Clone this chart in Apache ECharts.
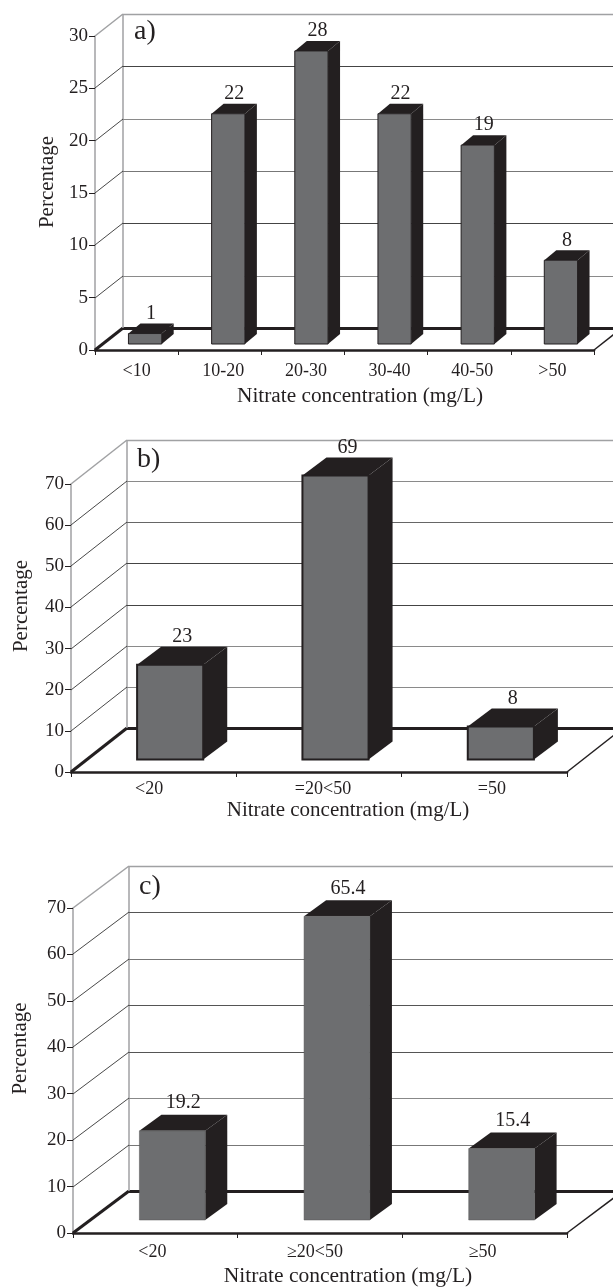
<!DOCTYPE html>
<html><head><meta charset="utf-8">
<style>html,body{margin:0;padding:0;background:#fff}#c{width:613px;height:1288px}</style>
<script src="https://cdn.jsdelivr.net/npm/echarts@6/dist/echarts.min.js"></script>
</head><body><div id="c"></div>
<script>
// Data
const categoriesA = ['<10','10-20','20-30','30-40','40-50','>50'];
const valuesA = [1,22,28,22,19,8];
const categoriesB = ['<20','=20<50','=50'];
const valuesB = [23,69,8];
const categoriesC = ['<20','≥20<50','≥50'];
const valuesC = [19.2,65.4,15.4];
const ticksA = [0,5,10,15,20,25,30];
const ticksBC = [0,10,20,30,40,50,60,70];
const valueLabelsA = ['1','22','28','22','19','8'];
const valueLabelsB = ['23','69','8'];
const valueLabelsC = ['19.2','65.4','15.4'];
const xTitle = 'Nitrate concentration (mg/L)';
const yTitle = 'Percentage';

const FONT = '"Liberation Serif","Times New Roman",serif';
const INK = '#231f20', GREY = '#6d6e70', WALL = '#a0a1a3';

const panels = [
 {letter:'a)', letterLeft:134, letterTop:18, cats:categoriesA, vals:valuesA, labels:valueLabelsA, ticks:ticksA, max:30, interval:5,
  grid:{left:95,top:36,width:499,height:314}, depth:[28,-22], bar:{ox:8.5,oy:6,dx:12,dy:-10,border:1}, nameShift:31, nameGap:36, nameSize:21.3, yPad:22, yGap:36, tickMargin:12,
  gridCols:{5:'#8a8a8a',10:'#444',15:'#777',20:'#8a8a8a',25:'#444'}, labelOffset:[0,3.5,3,3.5,3,0], labelGap:-10},
 {letter:'b)', letterLeft:137, letterTop:446, cats:categoriesB, vals:valuesB, labels:valueLabelsB, ticks:ticksBC, max:70, interval:10,
  grid:{left:71,top:484,width:496,height:288}, depth:[56,-44], bar:{ox:16.5,oy:12.5,dx:24,dy:-18,border:2}, nameShift:58, nameGap:28, nameSize:21, yPad:44, yGap:39, tickMargin:8,
  gridCols:{10:'#8a8a8a',20:'#8a8a8a',30:'#444',40:'#444',50:'#666',60:'#8a8a8a'}, labelOffset:[-4.5,4,7.5], labelGap:-10},
 {letter:'c)', letterLeft:139, letterTop:873, cats:categoriesC, vals:valuesC, labels:valueLabelsC, ticks:ticksBC, max:70, interval:10,
  grid:{left:73,top:908,width:494,height:325}, depth:[56,-42], bar:{ox:17,oy:13,dx:22,dy:-16,border:0}, nameShift:56, nameGap:32, nameSize:21.5, yPad:44, yGap:42, tickMargin:10,
  gridCols:{10:'#777',20:'#888',30:'#555',40:'#555',50:'#777',60:'#555'}, labelOffset:[-3,-5,-2], labelGap:-12}
];

const grids=[],xAxes=[],yAxes=[],series=[],titles=[];
panels.forEach((p,idx)=>{
  grids.push(Object.assign({outerBoundsMode:'none',containLabel:false},p.grid));
  titles.push({text:p.letter,left:p.letterLeft,top:p.letterTop,padding:0,
    textStyle:{fontFamily:FONT,fontSize:28,fontWeight:'normal',color:INK}});
  const rich={};
  p.labelOffset.forEach((o,i)=>{
    rich['k'+i]={fontFamily:FONT,fontSize:18,color:INK,
      padding:[0,o<0?-2*o:0,0,o>0?2*o:0]};
  });
  xAxes.push({type:'category',gridIndex:idx,data:p.cats,
    axisLine:{show:true,lineStyle:{color:INK,width:2.5}},
    axisTick:{show:true,length:5,lineStyle:{color:INK,width:1},alignWithLabel:false},
    axisLabel:{show:true,color:INK,fontFamily:FONT,fontSize:18,margin:p.tickMargin,interval:0,
      formatter:(v,i)=>`{k${i}|${v}}`,rich:rich},
    name:xTitle,nameLocation:'middle',nameGap:p.nameGap,
    nameTextStyle:{fontFamily:FONT,fontSize:p.nameSize,color:INK,padding:[0,0,0,p.nameShift]},
    splitLine:{show:false}});
  yAxes.push({type:'value',gridIndex:idx,min:0,max:p.max,interval:p.interval,
    axisLine:{show:true,lineStyle:{color:WALL,width:1.5}},
    axisTick:{show:true,length:6,lineStyle:{color:INK,width:1}},
    axisLabel:{color:INK,fontFamily:FONT,fontSize:19,margin:7},
    name:yTitle,nameLocation:'middle',nameGap:p.yGap,nameRotate:90,
    nameTextStyle:{fontFamily:FONT,fontSize:21,color:INK,padding:[0,0,0,p.yPad]},
    splitLine:{show:false}});
  // walls and floor
  series.push({type:'custom',xAxisIndex:idx,yAxisIndex:idx,silent:true,z:1,clip:false,
    data:p.ticks.map(t=>[0,t]),
    renderItem:(params,api)=>{
      const cs=params.coordSys, v=api.value(1), y=Math.round(api.coord([0,v])[1]);
      const x0=cs.x, x1=cs.x+cs.width, [dx,dy]=p.depth, bx=x0+dx, by=y+dy;
      const isBase=v===0, isTop=v===p.max;
      const horiz=isBase?INK:isTop?WALL:(p.gridCols[v]||'#666');
      const kids=[
        {type:'line',shape:{x1:x0,y1:y,x2:bx,y2:by},style:{stroke:isBase?INK:isTop?WALL:'#333',lineWidth:isBase?3:isTop?1.5:0.9}},
        {type:'line',shape:{x1:bx,y1:by+0.5,x2:613,y2:by+0.5},style:{stroke:horiz,lineWidth:isBase?3:isTop?1.5:1}}
      ];
      if(isBase){
        kids.push({type:'line',shape:{x1:x1,y1:y,x2:x1+dx,y2:by},style:{stroke:INK,lineWidth:1.5}});
        const topY=Math.round(api.coord([0,p.max])[1])+dy;
        kids.push({type:'line',shape:{x1:bx,y1:by,x2:bx,y2:topY},style:{stroke:WALL,lineWidth:1.5}});
      }
      return {type:'group',children:kids};
    }});
  // bars
  series.push({type:'custom',xAxisIndex:idx,yAxisIndex:idx,silent:true,z:3,clip:false,
    data:p.vals.map((v,i)=>[i,v]),
    renderItem:(params,api)=>{
      const i=api.value(0), v=api.value(1);
      const top=api.coord([i,v]), base=api.coord([i,0]);
      const w=api.size([1,0])[0]*0.4, b=p.bar;
      const l=top[0]+b.ox-w/2, r=l+w, t=top[1]-b.oy, u=base[1]-b.oy;
      return {type:'group',children:[
        {type:'polygon',shape:{points:[[l,t],[l+b.dx,t+b.dy],[r+b.dx,t+b.dy],[r,t]]},style:{fill:INK}},
        {type:'polygon',shape:{points:[[r,t],[r+b.dx,t+b.dy],[r+b.dx,u+b.dy],[r,u]]},style:{fill:INK}},
        {type:'rect',shape:{x:l,y:t,width:w,height:u-t},
          style:{fill:GREY,stroke:b.border?INK:'#555',lineWidth:b.border||0.5}},
        {type:'text',style:{text:p.labels[i],x:(l+r)/2+b.dx/2,y:t+b.dy+p.labelGap,
          align:'center',verticalAlign:'middle',font:`20px ${FONT}`,fill:INK}}
      ]};
    }});
});

const chart=echarts.init(document.getElementById('c'),null,{renderer:'canvas'});
chart.setOption({animation:false,backgroundColor:'#fff',title:titles,grid:grids,xAxis:xAxes,yAxis:yAxes,series:series});
</script>
</body></html>
